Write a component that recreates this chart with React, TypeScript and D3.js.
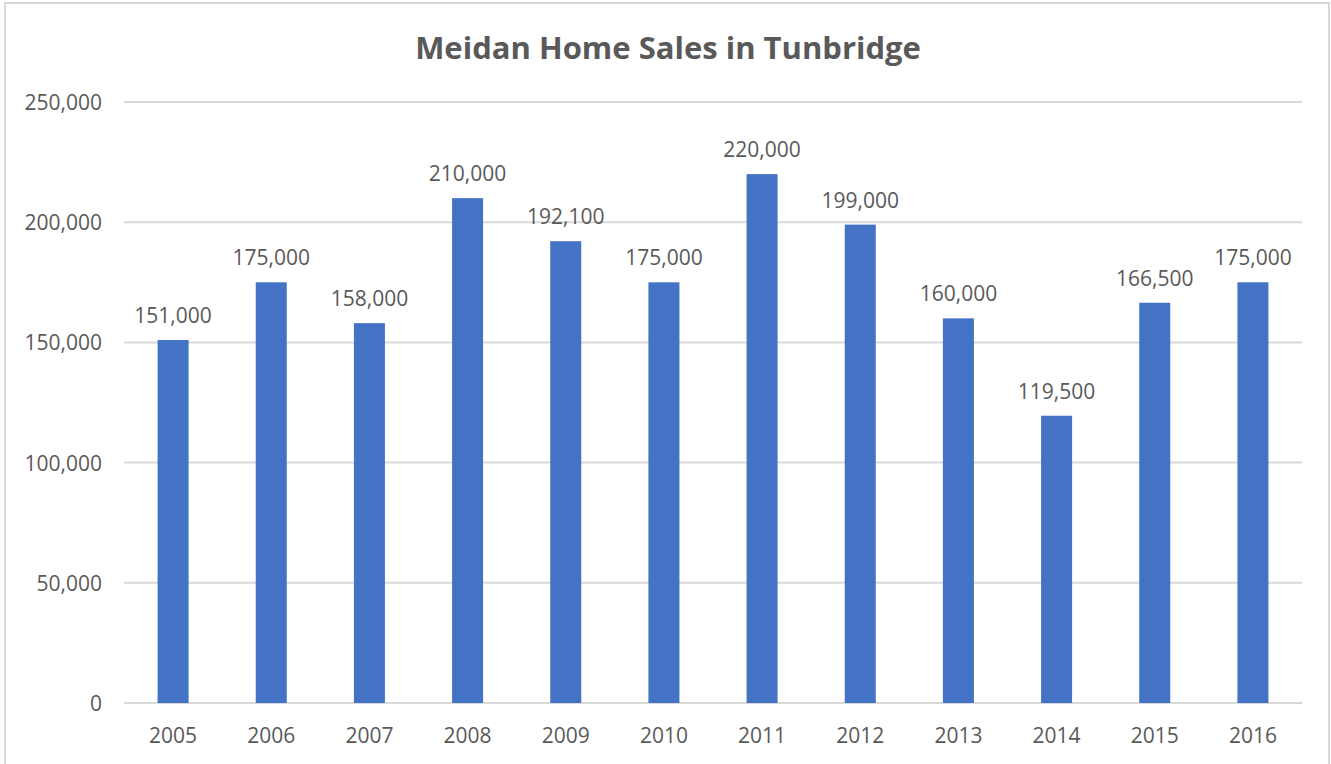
import React from "react";
import * as d3 from "d3";

const years = ["2005","2006","2007","2008","2009","2010","2011","2012","2013","2014","2015","2016"];
const sales = [151000,175000,158000,210000,192100,175000,220000,199000,160000,119500,166500,175000];
const yTicks = [0,50000,100000,150000,200000,250000];
const title = "Meidan Home Sales in Tunbridge";

const W = 1331, H = 764;
const left = 124, right = 1302, top = 102, bottom = 703;
const font = "'Open Sans', Lato, sans-serif";

export default function App() {
  const x = d3.scaleBand<string>().domain(years).range([left, right]).paddingInner(0.684).paddingOuter(0.342);
  const y = d3.scaleLinear().domain([0, 250000]).range([bottom, top]);
  const fmt = d3.format(",");
  return (
    <svg width={W} height={H} style={{ position: "absolute", left: 0, top: 0, background: "#fff" }}>
      <rect x={5} y={3} width={1324} height={H + 10} fill="#fff" stroke="#d9d9d9" strokeWidth={2} />
      <text x={668} y={59} textAnchor="middle" fontFamily={font} fontWeight="bold" fontSize={31} fill="#595959">{title}</text>
      {yTicks.map(t => (
        <g key={t}>
          <line x1={left} x2={right} y1={y(t)} y2={y(t)} stroke="#d9d9d9" strokeWidth={2} />
          <text x={102} y={y(t) + 8} textAnchor="end" fontFamily={font} fontSize={21} fill="#595959">{fmt(t)}</text>
        </g>
      ))}
      {years.map((yr, i) => (
        <g key={yr}>
          <rect x={x(yr)} y={y(sales[i])} width={x.bandwidth()} height={bottom - y(sales[i])} fill="#4472C4" />
          <text x={(x(yr) as number) + x.bandwidth() / 2} y={y(sales[i]) - 17} textAnchor="middle" fontFamily={font} fontSize={21} fill="#595959">{fmt(sales[i])}</text>
          <text x={(x(yr) as number) + x.bandwidth() / 2} y={743} textAnchor="middle" fontFamily={font} fontSize={21} fill="#595959">{yr}</text>
        </g>
      ))}
    </svg>
  );
}
